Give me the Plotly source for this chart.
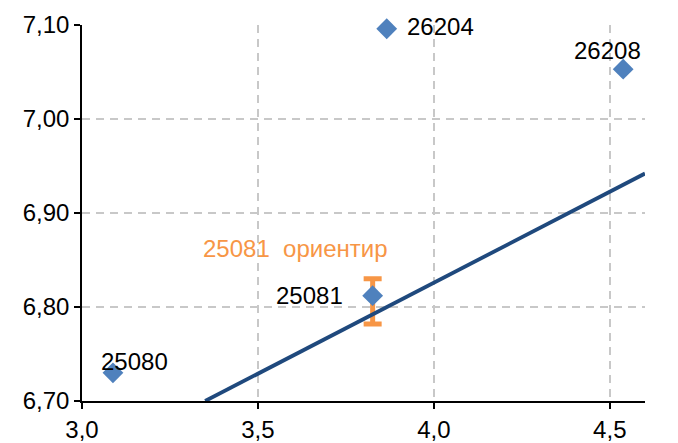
import plotly.graph_objects as go

# Data
pt_labels = ["25080", "25081", "26204", "26208"]
pt_x = [3.088, 3.826, 3.866, 4.538]
pt_y = [6.730, 6.812, 7.096, 7.053]

ref_label = "25081\u00a0 ориентир"
ref_x = [3.826]
ref_y = [6.806]
ref_err = [0.024]

line_x = [3.35, 4.60]
line_y = [6.700, 6.942]

x_ticks = [3.0, 3.5, 4.0, 4.5]
y_ticks = [6.70, 6.80, 6.90, 7.00, 7.10]

# label offsets (pixels) and anchors
lab_shift = [(22, 11, "center"), (-28, 0, "right"), (18, 2, "left"), (-16, 19, "center")]

FONT = "Liberation Sans, Arial, sans-serif"

fig = go.Figure()

fig.add_trace(go.Scatter(
    x=ref_x, y=ref_y, mode="markers",
    marker=dict(size=1, color="rgba(0,0,0,0)"),
    error_y=dict(type="data", array=ref_err, visible=True, color="#F79646", thickness=5, width=9),
    showlegend=False, hoverinfo="skip", cliponaxis=False))

fig.add_trace(go.Scatter(
    x=line_x, y=line_y, mode="lines",
    line=dict(color="#1F497D", width=3.8),
    showlegend=False))

fig.add_trace(go.Scatter(
    x=pt_x, y=pt_y, mode="markers",
    marker=dict(symbol="diamond", size=16, color="#4F81BD"),
    showlegend=False, cliponaxis=False))

for lab, x, y, (dx, dy, anc) in zip(pt_labels, pt_x, pt_y, lab_shift):
    fig.add_annotation(x=x, y=y, text=lab, showarrow=False, xshift=dx, yshift=dy,
                       xanchor=anc, yanchor="middle",
                       font=dict(family=FONT, size=24, color="black"))

fig.add_annotation(x=ref_x[0], y=ref_y[0], text=ref_label, showarrow=False,
                   xshift=-77, yshift=53, xanchor="center", yanchor="middle",
                   font=dict(family=FONT, size=24, color="#F79646"))

fig.update_layout(
    width=670, height=435,
    margin=dict(l=74, r=33, t=17, b=42),
    plot_bgcolor="white", paper_bgcolor="white",
    separators=", ",
    font=dict(family=FONT, size=24, color="black"),
    xaxis=dict(range=[3.0, 4.6], tickvals=x_ticks, tickformat=".1f",
               showline=True, linecolor="black", linewidth=1.5,
               ticks="outside", ticklen=6, tickwidth=1.5, tickcolor="black",
               showgrid=True, gridcolor="#C8C8C8", gridwidth=1.5, griddash="8px,6px",
               zeroline=False, tickfont=dict(size=24), automargin=False),
    yaxis=dict(range=[6.70, 7.10], tickvals=y_ticks, tickformat=".2f",
               showline=True, linecolor="black", linewidth=1.5,
               ticks="outside", ticklen=6, tickwidth=1.5, tickcolor="black",
               showgrid=True, gridcolor="#C8C8C8", gridwidth=1.5, griddash="8px,6px",
               zeroline=False, tickfont=dict(size=24), automargin=False),
)

fig.write_html("out.html")
